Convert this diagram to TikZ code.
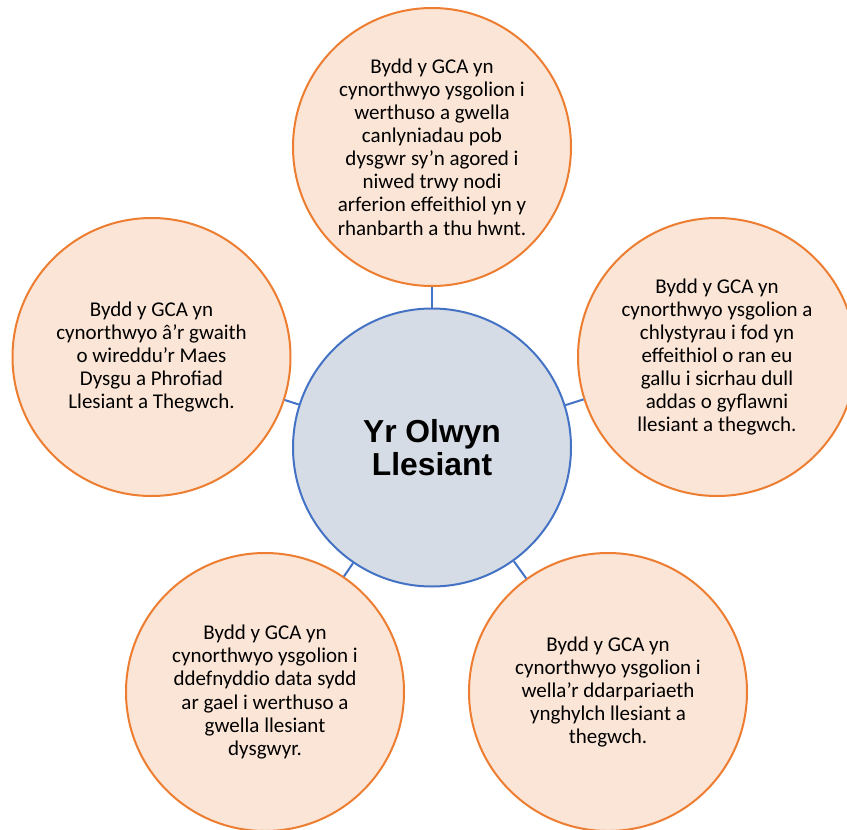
\documentclass[tikz,border=0pt]{standalone}
\usepackage{fontspec}
\setmainfont{Carlito}
\newfontfamily\titlefont{Liberation Sans}
\definecolor{orline}{HTML}{ED7D31}
\definecolor{orfill}{HTML}{FBE5D6}
\definecolor{blline}{HTML}{4472C4}
\definecolor{blfill}{HTML}{D6DCE5}
\tikzset{
  outercirc/.style={circle, draw=orline, fill=orfill, line width=2pt, minimum size=278pt, inner sep=0pt},
  centercirc/.style={circle, draw=blline, fill=blfill, line width=2pt, minimum size=278pt, inner sep=0pt},
  bodytext/.style={align=center, inner sep=0pt, font=\fontsize{21}{23.1}\selectfont, text=black},
  titletext/.style={align=center, inner sep=0pt, font=\titlefont\bfseries\fontsize{31.8}{33.5}\selectfont, text=black},
  spoke/.style={draw=blline, line width=2pt}
}
\begin{document}
\begin{tikzpicture}[x=1pt,y=-1pt]
\useasboundingbox (0,0) rectangle (847,830);
\fill[white] (0,0) rectangle (847,830);
\node[centercirc] (hub) at (432,447.5) {};
\node[outercirc] (top) at (432,147) {};
\node[outercirc] (right) at (717,357) {};
\node[outercirc] (left) at (151.5,357) {};
\node[outercirc] (bl) at (265,692) {};
\node[outercirc] (br) at (608,692) {};
\draw[spoke] (hub) -- (top);
\draw[spoke] (hub) -- (right);
\draw[spoke] (hub) -- (left);
\draw[spoke] (hub) -- (bl);
\draw[spoke] (hub) -- (br);
\node[titletext] (hubtxt) at (hub) {Yr Olwyn\\Llesiant};
\node[bodytext] (toptxt) at (top) {Bydd y GCA yn\\cynorthwyo ysgolion i\\werthuso a gwella\\canlyniadau pob\\dysgwr sy’n agored i\\niwed trwy nodi\\arferion effeithiol yn y\\rhanbarth a thu hwnt.};
\node[bodytext] (righttxt) at (right) {Bydd y GCA yn\\cynorthwyo ysgolion a\\chlystyrau i fod yn\\effeithiol o ran eu\\gallu i sicrhau dull\\addas o gyflawni\\llesiant a thegwch.};
\node[bodytext] (lefttxt) at (left) {Bydd y GCA yn\\cynorthwyo â’r gwaith\\o wireddu’r Maes\\Dysgu a Phrofiad\\Llesiant a Thegwch.};
\node[bodytext] (bltxt) at (bl) {Bydd y GCA yn\\cynorthwyo ysgolion i\\ddefnyddio data sydd\\ar gael i werthuso a\\gwella llesiant\\dysgwyr.};
\node[bodytext] (brtxt) at (br) {Bydd y GCA yn\\cynorthwyo ysgolion i\\wella’r ddarpariaeth\\ynghylch llesiant a\\thegwch.};
\end{tikzpicture}
\end{document}
